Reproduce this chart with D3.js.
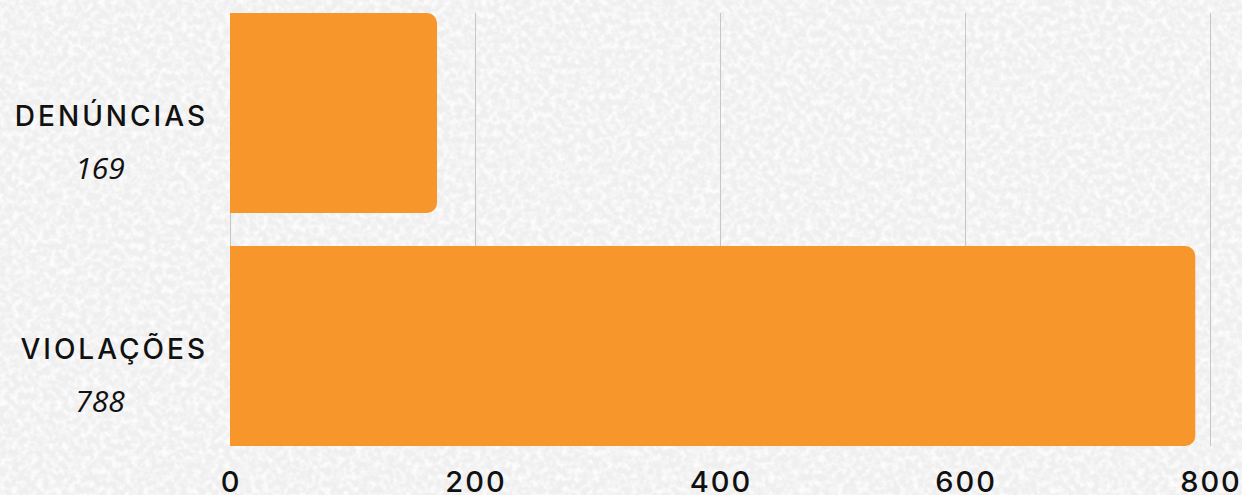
<!DOCTYPE html>
<html>
<head>
<meta charset="utf-8">
<script src="https://cdn.jsdelivr.net/npm/d3@7"></script>
<style>
  html, body { margin: 0; padding: 0; background: #f0f0f0; }
  svg { display: block; }
</style>
</head>
<body>
<svg id="chart" width="1242" height="495"></svg>
<script>
// Data
const categories = ["DENÚNCIAS", "VIOLAÇÕES"];
const values = [169, 788];
const tickValues = [0, 200, 400, 600, 800];

const W = 1242, H = 495;
const margin = { top: 13, right: 32, bottom: 49, left: 230 };

const svg = d3.select("#chart");

// Paper-like speckled background
const defs = svg.append("defs");
const f = defs.append("filter").attr("id", "speckle")
  .attr("x", 0).attr("y", 0).attr("width", "100%").attr("height", "100%");
f.append("feTurbulence").attr("type", "fractalNoise")
  .attr("baseFrequency", 0.16).attr("numOctaves", 2).attr("seed", 7).attr("result", "n");
f.append("feColorMatrix").attr("in", "n").attr("type", "matrix")
  .attr("values", "0 0 0 0 1  0 0 0 0 1  0 0 0 0 1  2.6 0 0 0 -1.0");
svg.append("rect").attr("width", W).attr("height", H).attr("fill", "#efefef");
svg.append("rect").attr("width", W).attr("height", H).attr("filter", "url(#speckle)").attr("opacity", 0.85);

const x = d3.scaleLinear().domain([0, 800]).range([margin.left, W - margin.right]);
const y = d3.scaleBand().domain(categories)
  .range([margin.top, H - margin.bottom]).paddingInner(0.1416).paddingOuter(0);

// Vertical gridlines
svg.append("g").selectAll("line").data(tickValues).join("line")
  .attr("x1", d => Math.round(x(d)) + 0.5).attr("x2", d => Math.round(x(d)) + 0.5)
  .attr("y1", margin.top).attr("y2", H - margin.bottom)
  .attr("stroke", "#c6c6c6").attr("stroke-width", 1);

// Bars with rounded right end
const r = 10;
function barPath(x0, x1, y0, h) {
  return `M${x0},${y0}H${x1 - r}A${r},${r} 0 0 1 ${x1},${y0 + r}V${y0 + h - r}A${r},${r} 0 0 1 ${x1 - r},${y0 + h}H${x0}Z`;
}
svg.append("g").selectAll("path").data(categories).join("path")
  .attr("d", (c, i) => barPath(x(0), x(values[i]), y(c), y.bandwidth()))
  .attr("fill", "#f7962a");

// Category labels and values
const lab = svg.append("g");
lab.selectAll("text.cat").data(categories).join("text").attr("class", "cat")
  .attr("x", 208).attr("y", c => y(c) + y.bandwidth() / 2 + 13)
  .attr("text-anchor", "end")
  .attr("font-family", "Inter").attr("font-weight", 500).attr("font-size", 28).attr("letter-spacing", 3)
  .attr("fill", "#111").text(c => c);
lab.selectAll("text.val").data(categories).join("text").attr("class", "val")
  .attr("x", 100).attr("y", c => y(c) + y.bandwidth() / 2 + 66)
  .attr("text-anchor", "middle")
  .attr("font-family", "Open Sans").attr("font-style", "italic").attr("font-size", 30)
  .attr("fill", "#111").text((c, i) => values[i]);

// X axis tick labels
svg.append("g").selectAll("text").data(tickValues).join("text")
  .attr("x", d => x(d) + 1).attr("y", 492)
  .attr("text-anchor", "middle")
  .attr("font-family", "Inter").attr("font-weight", 500).attr("font-size", 29).attr("letter-spacing", 2)
  .attr("fill", "#111").text(d => d);
</script>
</body>
</html>
